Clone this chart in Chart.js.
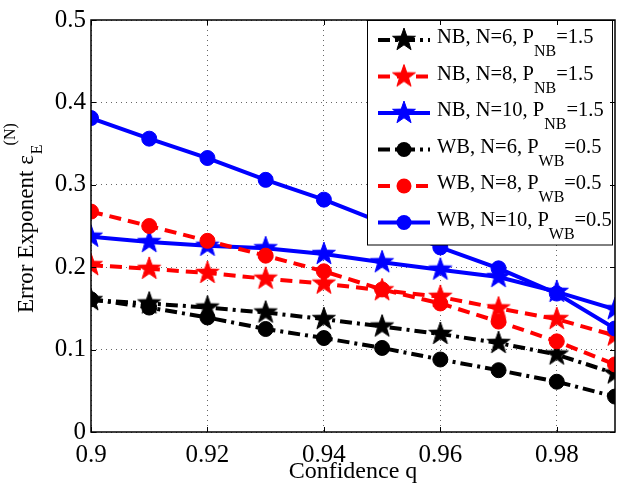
<!DOCTYPE html>
<html>
<head>
<meta charset="utf-8">
<script src="https://cdn.jsdelivr.net/npm/chart.js@4.4.1/dist/chart.umd.min.js"></script>
<style>
  html, body { margin: 0; padding: 0; background: #fff; }
  #wrap { width: 628px; height: 486px; position: relative; }
</style>
</head>
<body>
<div id="wrap"><canvas id="exponentChart"></canvas></div>
<script>
// confidence levels on the x axis
const confidence = [0.9, 0.91, 0.92, 0.93, 0.94, 0.95, 0.96, 0.97, 0.98, 0.99];

// error exponents, narrowband (NB) and wideband (WB)
const nbN6  = [0.160, 0.156, 0.151, 0.145, 0.137, 0.128, 0.119, 0.108, 0.094, 0.071];
const nbN8  = [0.2025, 0.198, 0.193, 0.186, 0.180, 0.172, 0.164, 0.150, 0.137, 0.117];
const nbN10 = [0.237, 0.2305, 0.226, 0.223, 0.216, 0.206, 0.197, 0.188, 0.170, 0.149];
const wbN6  = [0.161, 0.151, 0.139, 0.125, 0.114, 0.102, 0.088, 0.075, 0.061, 0.043];
const wbN8  = [0.2675, 0.250, 0.232, 0.214, 0.195, 0.173, 0.156, 0.134, 0.110, 0.082];
const wbN10 = [0.381, 0.356, 0.3325, 0.306, 0.282, 0.254, 0.224, 0.1986, 0.168, 0.1256];

const xTicks = [0.9, 0.92, 0.94, 0.96, 0.98];
const yTicks = [0, 0.1, 0.2, 0.3, 0.4, 0.5];

// legend text: main part, subscript, tail
const legendMain = ["NB, N=6, P", "NB, N=8, P", "NB, N=10, P", "WB, N=6, P", "WB, N=8, P", "WB, N=10, P"];
const legendSub  = ["NB", "NB", "NB", "WB", "WB", "WB"];
const legendTail = ["=1.5", "=1.5", "=1.5", "=0.5", "=0.5", "=0.5"];

const SERIF = "'Liberation Serif', 'Times New Roman', serif";
const DASH_DOT = [12, 5, 3, 5];
const DASHED = [12, 7];

Chart.defaults.font.family = SERIF;
Chart.defaults.color = "#000";

function makeStar(color, r) {
    const size = Math.ceil(2 * r + 4);
    const c = document.createElement("canvas");
    c.width = size;
    c.height = size;
    const g = c.getContext("2d");
    const cx = size / 2, cy = size / 2, inner = r * 0.4;
    g.beginPath();
    for (let k = 0; k < 10; k++) {
        const rad = k % 2 === 0 ? r : inner;
        const a = -Math.PI / 2 + k * Math.PI / 5;
        const px = cx + rad * Math.cos(a), py = cy + rad * Math.sin(a);
        if (k === 0) g.moveTo(px, py); else g.lineTo(px, py);
    }
    g.closePath();
    g.fillStyle = color;
    g.fill();
    g.strokeStyle = color;
    g.lineWidth = 1;
    g.stroke();
    return c;
}

const styles = [
    { values: nbN6,  color: "#000000", dash: DASH_DOT, marker: "star" },
    { values: nbN8,  color: "#ff0000", dash: DASHED,   marker: "star" },
    { values: nbN10, color: "#0000ff", dash: [],       marker: "star" },
    { values: wbN6,  color: "#000000", dash: DASH_DOT, marker: "circle" },
    { values: wbN8,  color: "#ff0000", dash: DASHED,   marker: "circle" },
    { values: wbN10, color: "#0000ff", dash: [],       marker: "circle" }
];
styles.forEach(s => { s.star = makeStar(s.color, 12); });

const datasets = styles.map((s, i) => ({
    label: legendMain[i] + legendSub[i] + legendTail[i],
    data: confidence.map((q, j) => ({ x: q, y: s.values[j] })),
    borderColor: s.color,
    backgroundColor: s.color,
    borderWidth: 4,
    borderDash: s.dash,
    pointStyle: s.marker === "star" ? s.star : "circle",
    pointRadius: s.marker === "star" ? 12 : 7.5,
    pointBorderWidth: 1,
    pointBackgroundColor: s.color,
    pointBorderColor: s.color,
    tension: 0,
    order: styles.length - 1 - i   // later series drawn on top
}));

// legend box with subscripts, drawn over the data
const legendBox = {
    id: "legendBox",
    afterDatasetsDraw(chart) {
        const ctx = chart.ctx;
        const bx = 367.5, by = 20.5, bw = 245, bh = 224.5;
        ctx.save();
        ctx.fillStyle = "#fff";
        ctx.fillRect(bx, by, bw, bh);
        ctx.strokeStyle = "#000";
        ctx.lineWidth = 1;
        ctx.strokeRect(bx, by, bw, bh);
        styles.forEach((s, i) => {
            const cy = 40 + 36.5 * i;
            ctx.beginPath();
            ctx.setLineDash(s.dash);
            ctx.strokeStyle = s.color;
            ctx.lineWidth = 4;
            ctx.moveTo(378, cy);
            ctx.lineTo(430, cy);
            ctx.stroke();
            ctx.setLineDash([]);
            if (s.marker === "star") {
                ctx.drawImage(s.star, 404 - s.star.width / 2, cy - s.star.height / 2);
            } else {
                ctx.beginPath();
                ctx.fillStyle = s.color;
                ctx.arc(404, cy, 7.5, 0, Math.PI * 2);
                ctx.fill();
            }
            ctx.fillStyle = "#000";
            ctx.textBaseline = "alphabetic";
            ctx.textAlign = "left";
            let x = 437;
            ctx.font = "20.5px " + SERIF;
            ctx.fillText(legendMain[i], x, cy + 3);
            x += ctx.measureText(legendMain[i]).width;
            ctx.font = "16px " + SERIF;
            ctx.fillText(legendSub[i], x, cy + 16);
            x += ctx.measureText(legendSub[i]).width;
            ctx.font = "20.5px " + SERIF;
            ctx.fillText(legendTail[i], x, cy + 3);
        });
        ctx.restore();
    }
};

// box frame, inward ticks on all sides and the y axis title
const frameAndTitle = {
    id: "frameAndTitle",
    afterDraw(chart) {
        const ctx = chart.ctx;
        const a = chart.chartArea;
        const xs = chart.scales.x, ys = chart.scales.y;
        ctx.save();
        ctx.strokeStyle = "#000";
        ctx.lineWidth = 1.5;
        ctx.strokeRect(a.left, a.top, a.right - a.left, a.bottom - a.top);
        ctx.lineWidth = 1;
        ctx.beginPath();
        xTicks.forEach(v => {
            const px = Math.round(xs.getPixelForValue(v)) + 0.5;
            ctx.moveTo(px, a.bottom); ctx.lineTo(px, a.bottom - 5);
            ctx.moveTo(px, a.top); ctx.lineTo(px, a.top + 5);
        });
        yTicks.forEach(v => {
            const py = Math.round(ys.getPixelForValue(v)) + 0.5;
            ctx.moveTo(a.left, py); ctx.lineTo(a.left + 5, py);
            ctx.moveTo(a.right, py); ctx.lineTo(a.right - 5, py);
        });
        ctx.stroke();

        ctx.translate(33, 313);
        ctx.rotate(-Math.PI / 2);
        ctx.fillStyle = "#000";
        ctx.textBaseline = "alphabetic";
        ctx.textAlign = "left";
        ctx.font = "23px " + SERIF;
        const main = "Error Exponent \u03b5";
        ctx.fillText(main, 0, 0);
        const w = ctx.measureText(main).width;
        ctx.font = "16px " + SERIF;
        ctx.fillText("E", w + 1, 9);
        const ew = ctx.measureText("E").width;
        ctx.fillText("(N)", w + ew, -18);
        ctx.restore();
    }
};

const gridStyle = { color: "rgba(0,0,0,0.6)", lineWidth: 1, drawTicks: false };

new Chart(document.getElementById("exponentChart"), {
    type: "line",
    data: { datasets: datasets },
    options: {
        responsive: true,
        maintainAspectRatio: false,
        animation: false,
        layout: { padding: { top: 14, right: 10, left: 0, bottom: 0 } },
        plugins: {
            legend: { display: false },
            tooltip: { enabled: false }
        },
        scales: {
            x: {
                type: "linear",
                min: 0.9,
                max: 0.99,
                afterBuildTicks: scale => { scale.ticks = xTicks.map(v => ({ value: v })); },
                afterFit: scale => { scale.height = 54; },
                ticks: {
                    font: { family: SERIF, size: 25 },
                    color: "#000",
                    padding: 8,
                    maxRotation: 0,
                    autoSkip: false,
                    callback: v => String(v)
                },
                grid: gridStyle,
                border: { display: false, dash: [1, 4] },
                title: {
                    display: true,
                    text: "Confidence q",
                    font: { family: SERIF, size: 24 },
                    color: "#000",
                    padding: { top: 0, bottom: 0 }
                }
            },
            y: {
                min: 0,
                max: 0.5,
                afterBuildTicks: scale => { scale.ticks = yTicks.map(v => ({ value: v })); },
                afterFit: scale => { scale.width = 91; },
                ticks: {
                    font: { family: SERIF, size: 25 },
                    color: "#000",
                    padding: 5,
                    callback: v => String(v)
                },
                grid: gridStyle,
                border: { display: false, dash: [1, 4] }
            }
        }
    },
    plugins: [legendBox, frameAndTitle]
});
</script>
</body>
</html>
